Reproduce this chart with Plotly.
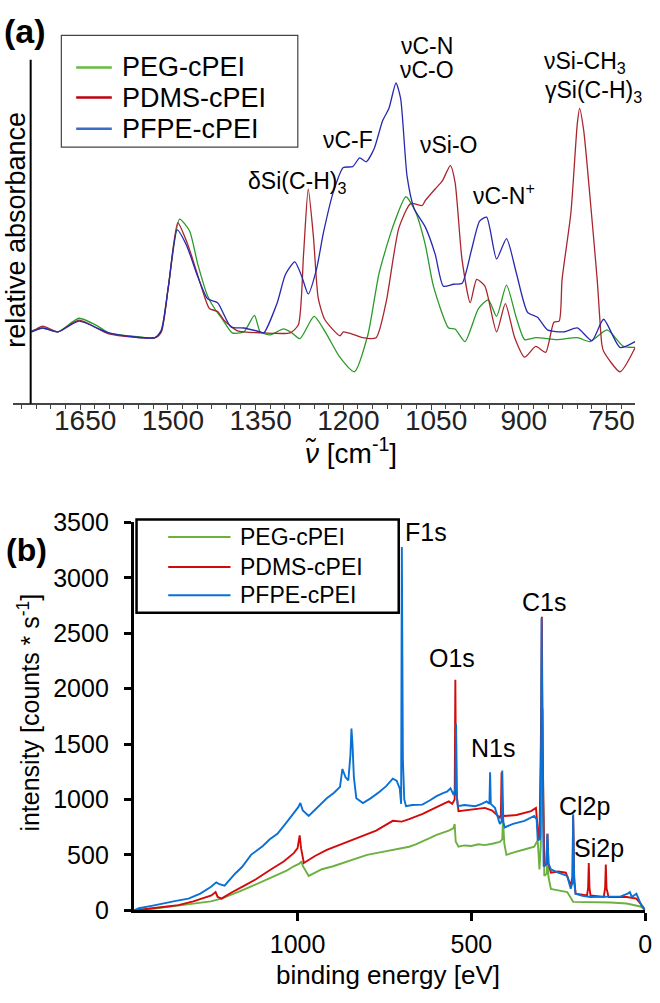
import plotly.graph_objects as go

W, H = 660, 1003
FONT = "Liberation Sans, Arial, sans-serif"

# ---------------- Panel (a): FTIR spectra ----------------
ir_names = ["PEG-cPEI", "PDMS-cPEI", "PFPE-cPEI"]

peg_wn = [1733, 1714, 1688, 1652, 1623, 1601, 1550, 1522, 1511, 1499, 1480, 1463, 1449, 1432,
          1418, 1409, 1390, 1370, 1352, 1342, 1325, 1302, 1288, 1274, 1250, 1229, 1206, 1181,
          1158, 1139, 1116, 1093, 1077, 1060, 1046, 1020, 1009, 992, 969, 952, 938, 921, 904,
          890, 871, 834, 800, 778, 749, 721, 701]
peg_abs = [0.74, 0.77, 0.73, 0.87, 0.80, 0.72, 0.68, 0.67, 0.75, 1.20, 1.89, 1.77, 1.43, 1.10,
           0.95, 0.88, 0.72, 0.73, 0.90, 0.73, 0.70, 0.76, 0.72, 0.66, 0.89, 0.71, 0.47, 0.32,
           0.70, 1.33, 1.80, 2.12, 1.97, 1.63, 1.20, 0.77, 0.76, 0.63, 0.97, 1.06, 0.89, 1.21, 0.87,
           0.65, 0.67, 0.65, 0.67, 0.63, 0.75, 0.58, 0.57]

pdms_wn = [1733, 1714, 1688, 1652, 1601, 1522, 1511, 1499, 1483, 1466, 1443, 1429, 1415, 1404,
           1381, 1336, 1291, 1277, 1268, 1260, 1251, 1243, 1232, 1206, 1200, 1186, 1167, 1144,
           1127, 1105, 1085, 1065, 1060, 1043, 1031, 1017, 1009, 997, 983, 972, 958, 938, 923,
           907, 890, 871, 854, 840, 831, 826, 811, 800, 796, 789, 778, 766, 758, 755, 727, 701]
pdms_abs = [0.73, 0.79, 0.73, 0.85, 0.71, 0.67, 0.73, 1.20, 1.85, 1.63, 1.20, 0.97, 0.94, 0.85,
            0.74, 0.72, 0.72, 0.80, 1.53, 2.20, 1.70, 1.08, 0.86, 0.69, 0.73, 0.71, 0.67, 0.67,
            1.03, 1.80, 2.05, 2.03, 2.08, 2.20, 2.28, 2.44, 2.27, 1.47, 1.03, 1.27, 1.20, 0.73, 1.02,
            0.67, 0.47, 0.58, 0.52, 0.83, 0.84, 1.27, 1.95, 2.87, 3.03, 2.80, 2.10, 1.27, 0.60,
            0.53, 0.32, 0.57]

pfpe_wn = [1733, 1714, 1688, 1652, 1601, 1522, 1511, 1499, 1484, 1468, 1449, 1432, 1415, 1392,
           1370, 1342, 1336, 1313, 1299, 1283, 1271, 1260, 1246, 1234, 1217, 1200, 1184, 1172,
           1161, 1147, 1133, 1122, 1110, 1102, 1091, 1079, 1060, 1043, 1029, 1012, 997, 981, 967,
           955, 938, 921, 904, 885, 868, 851, 823, 800, 775, 755, 727, 701]
pfpe_abs = [0.73, 0.77, 0.73, 0.84, 0.72, 0.67, 0.75, 1.20, 1.78, 1.62, 1.30, 1.07, 1.03, 0.78,
            0.77, 0.73, 0.72, 1.03, 1.32, 1.45, 1.30, 1.12, 1.37, 1.75, 2.17, 2.42, 2.43, 2.52,
            2.48, 2.62, 2.90, 3.03, 3.29, 3.13, 2.33, 2.00, 1.81, 1.53, 1.20, 1.22, 1.23, 1.57, 1.87,
            1.91, 1.48, 1.69, 1.33, 0.93, 0.88, 0.75, 0.73, 0.77, 0.64, 0.86, 0.57, 0.63]

ir_ticks = [1650, 1500, 1350, 1200, 1050, 900, 750]

# ---------------- Panel (b): XPS survey spectra ----------------
xps_names = ["PEG-cPEI", "PDMS-cPEI", "PFPE-cPEI"]

peg_be = [1470, 1457, 1400, 1350, 1295, 1250, 1219, 1190, 1160, 1130, 1106, 1080, 1050, 1030,
          1011, 995, 989, 985, 968, 950, 930, 900, 869, 845, 820, 800, 774, 750, 726, 700, 679,
          660, 640, 620, 600, 580, 565, 552, 548, 545, 537, 520, 500, 480, 461, 440, 418, 411,
          409, 405, 399, 380, 360, 340, 319, 309, 304, 300, 296, 295, 293, 290, 283, 281, 278,
          271, 250, 224, 207, 167, 100, 53, 11, 0]
peg_int = [0, 3, 20, 40, 61, 80, 105, 140, 180, 220, 252, 290, 330, 360,
           397, 420, 441, 400, 310, 340, 370, 395, 427, 455, 480, 500, 515, 530, 545, 560, 573,
           595, 620, 650, 680, 700, 719, 740, 778, 620, 573, 585, 580, 595, 588, 600, 617, 640,
           822, 600, 500, 520, 540, 555, 573, 632, 368, 600, 1200, 1820, 1000, 310, 330, 485, 300,
           193, 180, 164, 76, 76, 70, 61, 32, 0]

pdms_be = [1470, 1457, 1400, 1343, 1300, 1260, 1248, 1236, 1230, 1219, 1190, 1153, 1120, 1077,
           1040, 1011, 1000, 994, 990, 982, 950, 916, 870, 821, 774, 726, 700, 679, 640, 600, 565,
           555, 548, 546, 544, 537, 500, 461, 440, 418, 415, 413, 411, 404, 370, 328, 314, 308,
           304, 300, 297, 295, 290, 283, 281, 278, 271, 250, 228, 214, 209, 207, 204, 200, 167,
           164, 162, 160, 157, 119, 115, 113, 111, 105, 53, 40, 25, 6, 0]
pdms_int = [0, 3, 25, 46, 80, 120, 134, 164, 120, 105, 160, 222, 280, 368,
            440, 515, 560, 675, 560, 427, 490, 544, 600, 661, 719, 807, 800, 822, 870, 930, 982,
            960, 1000, 2079, 1100, 895, 910, 924, 900, 836, 860, 1246, 860, 851, 860, 895, 924, 700,
            632, 1500, 2649, 1500, 397, 420, 690, 420, 339, 350, 339, 222, 300, 851, 300, 149, 134,
            200, 427, 200, 134, 120, 200, 412, 200, 120, 120, 110, 105, 32, 0]

pfpe_be = [1470, 1457, 1420, 1390, 1350, 1314, 1280, 1250, 1234, 1225, 1210, 1180, 1160, 1134,
           1100, 1080, 1058, 1030, 1010, 998, 992, 985, 968, 945, 916, 895, 878, 871, 862, 854,
           848, 845, 842, 838, 831, 812, 790, 764, 745, 726, 715, 706, 702, 700, 697, 693, 688,
           670, 641, 620, 600, 580, 570, 560, 551, 546, 544, 541, 539, 520, 500, 489, 470, 456,
           448, 446, 444, 432, 418, 413, 411, 408, 404, 380, 347, 330, 319, 312, 309, 302, 299,
           298, 296, 292, 285, 281, 278, 271, 250, 224, 214, 209, 207, 204, 200, 180, 157, 110,
           70, 50, 44, 38, 30, 25, 11, 0]
pfpe_int = [0, 18, 40, 61, 85, 105, 150, 210, 252, 235, 222, 330, 390, 500,
            580, 640, 690, 800, 880, 930, 968, 900, 851, 920, 1011, 1060, 1114, 1275, 1200, 1172,
            1400, 1640, 1500, 1200, 1011, 968, 1010, 1070, 1120, 1187, 1170, 1100, 960, 3278, 1360,
            1000, 939, 950, 953, 990, 1030, 1060, 1070, 1100, 1041, 1100, 1684, 1000, 939, 950, 940,
            939, 960, 982, 960, 1246, 960, 924, 778, 800, 1261, 800, 748, 780, 807, 830, 851, 820,
            632, 650, 1500, 2634, 1500, 397, 420, 690, 420, 368, 340, 310, 193, 250, 866, 250, 149,
            130, 120, 120, 125, 150, 164, 120, 140, 149, 46, 0]

xps_ticks_x = [1000, 500, 0]
xps_ticks_y = [0, 500, 1000, 1500, 2000, 2500, 3000, 3500]


def px(x):
    return x / W


def py(y):
    return 1 - y / H


ir_colors = ["#2a9a2a", "#a8262e", "#2828b0"]
ir_legend_colors = ["#66bb44", "#c00010", "#3a6ccc"]
xps_colors = ["#6cb040", "#d40a0a", "#0a70d4"]

fig = go.Figure()

for name, wn, ab, col in zip(ir_names, [peg_wn, pdms_wn, pfpe_wn],
                             [peg_abs, pdms_abs, pfpe_abs], ir_colors):
    fig.add_trace(go.Scatter(x=wn, y=ab, mode="lines", name=name, showlegend=False,
                             line=dict(color=col, width=1.3, shape="spline", smoothing=0.6),
                             xaxis="x", yaxis="y"))

for name, be, it, col in zip(xps_names, [peg_be, pdms_be, pfpe_be],
                             [peg_int, pdms_int, pfpe_int], xps_colors):
    fig.add_trace(go.Scatter(x=be, y=it, mode="lines", name=name, showlegend=False,
                             line=dict(color=col, width=1.9),
                             xaxis="x2", yaxis="y2"))

shapes = []
annotations = []

# top-panel y axis line (no ticks)
shapes.append(dict(type="line", xref="paper", yref="paper", x0=px(31), x1=px(31),
                   y0=py(401), y1=py(47), line=dict(color="black", width=2)))

# top legend
shapes.append(dict(type="rect", xref="paper", yref="paper", x0=px(62), x1=px(301),
                   y0=py(137), y1=py(22), line=dict(color="#444", width=1.2),
                   fillcolor="white", layer="above"))
for i, (name, col) in enumerate(zip(ir_names, ir_legend_colors)):
    yy = [55, 86, 118][i]
    shapes.append(dict(type="line", xref="paper", yref="paper", x0=px(77), x1=px(113),
                       y0=py(yy), y1=py(yy), line=dict(color=col, width=2.5), layer="above"))
    annotations.append(dict(text=name, xref="paper", yref="paper", x=px(121), y=py(yy),
                            xanchor="left", yanchor="middle", showarrow=False,
                            font=dict(size=27, color="black", family=FONT)))

# bottom legend
shapes.append(dict(type="rect", xref="paper", yref="paper", x0=px(138), x1=px(403),
                   y0=py(616), y1=py(520), line=dict(color="black", width=2.5),
                   fillcolor="white", layer="above"))
for i, (name, col) in enumerate(zip(xps_names, xps_colors)):
    yy = [538, 569, 598][i]
    shapes.append(dict(type="line", xref="paper", yref="paper", x0=px(170), x1=px(233),
                       y0=py(yy), y1=py(yy), line=dict(color=col, width=2), layer="above"))
    annotations.append(dict(text=name, xref="paper", yref="paper", x=px(241), y=py(yy),
                            xanchor="left", yanchor="middle", showarrow=False,
                            font=dict(size=23, color="black", family=FONT)))

# peak labels panel (a)
ir_labels = [
    ("νC-N", 432, 33), ("νC-O", 432, 58), ("δSi(C-H)<sub>3</sub>", 300, 173),
    ("νC-F", 352, 130), ("νSi-O", 454, 135), ("νC-N<sup>+</sup>", 509, 185),
    ("νSi-CH<sub>3</sub>", 591, 50), ("γSi(C-H)<sub>3</sub>", 600, 80),
]
for t, x, y in ir_labels:
    annotations.append(dict(text=t, xref="paper", yref="paper", x=px(x), y=py(y),
                            xanchor="center", yanchor="middle", showarrow=False,
                            font=dict(size=23, color="black", family=FONT)))

# peak labels panel (b)
xps_labels = [("F1s", 431, 533), ("C1s", 550, 605), ("O1s", 457, 662), ("N1s", 498, 755),
              ("Cl2p", 591, 815), ("Si2p", 605, 858)]
for t, x, y in xps_labels:
    annotations.append(dict(text=t, xref="paper", yref="paper", x=px(x), y=py(y),
                            xanchor="center", yanchor="middle", showarrow=False,
                            font=dict(size=25, color="black", family=FONT)))

# panel letters
annotations.append(dict(text="<b>(a)</b>", xref="paper", yref="paper", x=px(2), y=py(18),
                        xanchor="left", yanchor="middle", showarrow=False,
                        font=dict(size=34, color="black", family=FONT)))
annotations.append(dict(text="<b>(b)</b>", xref="paper", yref="paper", x=px(4), y=py(551),
                        xanchor="left", yanchor="middle", showarrow=False,
                        font=dict(size=32, color="black", family=FONT)))

# axis titles
annotations.append(dict(text="relative absorbance", xref="paper", yref="paper", x=px(16),
                        y=py(222), xanchor="center", yanchor="middle", textangle=-90,
                        showarrow=False, font=dict(size=27, color="black", family=FONT)))
annotations.append(dict(text="<i>ν̃</i> [cm<sup>-1</sup>]", xref="paper", yref="paper",
                        x=px(355), y=py(450), xanchor="center", yanchor="middle",
                        showarrow=False, font=dict(size=28, color="black", family=FONT)))
annotations.append(dict(text="intensity [counts * s<sup>-1</sup>]", xref="paper",
                        yref="paper", x=px(29), y=py(719), xanchor="center",
                        yanchor="middle", textangle=-90, showarrow=False,
                        font=dict(size=25, color="black", family=FONT)))
annotations.append(dict(text="binding energy [eV]", xref="paper", yref="paper", x=px(392),
                        y=py(989), xanchor="center", yanchor="middle", showarrow=False,
                        font=dict(size=26, color="black", family=FONT)))

fig.update_layout(
    width=W, height=H, autosize=False,
    margin=dict(l=0, r=0, t=0, b=0),
    paper_bgcolor="white", plot_bgcolor="rgba(0,0,0,0)",
    font=dict(family=FONT, color="black"),
    showlegend=False,
    shapes=shapes, annotations=annotations,
    xaxis=dict(domain=[px(13), px(642)], range=[1765, 701], anchor="y",
               tickmode="array", tickvals=ir_ticks, ticks="outside", ticklen=5,
               tickcolor="#444", tickwidth=1, showline=True, linecolor="#444", linewidth=1.5,
               showgrid=False, zeroline=False, ticklabelshift=-5, ticklabelstandoff=-13,
               tickfont=dict(size=28, color="#222", family=FONT),
               minor=dict(dtick=25, tick0=750, ticks="outside", ticklen=4,
                          tickcolor="#444", showgrid=False)),
    yaxis=dict(domain=[py(400), py(47)], range=[0, 3.53], anchor="x",
               showline=False, showticklabels=False, ticks="", showgrid=False,
               zeroline=False),
    xaxis2=dict(domain=[px(135), px(652)], range=[1472, 0], anchor="y2",
                tickmode="array", tickvals=xps_ticks_x, ticks="outside", ticklen=8,
                tickwidth=2.5, tickcolor="black", showline=True, linecolor="black",
                linewidth=2.5, showgrid=False, zeroline=False, ticklabelstandoff=2,
                tickfont=dict(size=25, color="black", family=FONT)),
    yaxis2=dict(domain=[py(922), py(523)], range=[0, 3500], anchor="x2",
                tickmode="array", tickvals=xps_ticks_y, ticks="outside", ticklen=7,
                tickwidth=2.5, tickcolor="black", showline=True, linecolor="black",
                linewidth=2.5, showgrid=False, zeroline=False, ticklabelstandoff=10,
                tickfont=dict(size=25, color="black", family=FONT)),
)

fig.write_html("out.html")
